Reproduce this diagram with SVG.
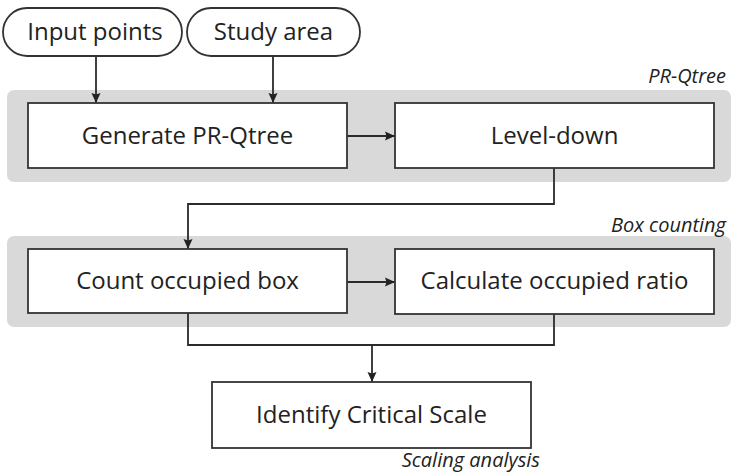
<svg xmlns="http://www.w3.org/2000/svg" width="732" height="474" viewBox="0 0 732 474">
  <defs>
    <marker id="arrow" viewBox="0 0 10 10" refX="10" refY="5" markerWidth="10" markerHeight="10" markerUnits="userSpaceOnUse" orient="auto">
      <path d="M0,0.5 L10,5 L0,9.5 L1.5,5 Z" fill="#222222"/>
    </marker>
  </defs>
  <style>
    .panel { fill: #d9d9d9; }
    .box { fill: #ffffff; stroke: #333333; stroke-width: 1.8; }
    .label { font-family: "Open Sans", "Noto Sans", sans-serif; font-size: 24px; fill: #222222; text-anchor: middle; }
    .group-label { font-family: "Open Sans", "Noto Sans", sans-serif; font-size: 20px; font-style: italic; fill: #222222; text-anchor: end; }
    .link { fill: none; stroke: #2b2b2b; stroke-width: 1.8; }
  </style>

  <!-- group panels -->
  <rect class="panel" x="7" y="90" width="724" height="92" rx="7"/>
  <rect class="panel" x="7" y="236" width="724" height="91" rx="7"/>
  <text class="group-label" x="726" y="83">PR-Qtree</text>
  <text class="group-label" x="726" y="232">Box counting</text>
  <text class="group-label" x="540" y="467">Scaling analysis</text>

  <!-- connectors -->
  <g id="connectors">
    <path class="link" d="M96,56 V103" marker-end="url(#arrow)"/>
    <path class="link" d="M273,56 V103" marker-end="url(#arrow)"/>
    <path class="link" d="M347,136 H395" marker-end="url(#arrow)"/>
    <path class="link" d="M554,168 V204 H188 V249" marker-end="url(#arrow)"/>
    <path class="link" d="M347,282 H395" marker-end="url(#arrow)"/>
    <path class="link" d="M188,313 V345 H554 V314"/>
    <path class="link" d="M372,345 V382" marker-end="url(#arrow)"/>
  </g>

  <g id="input-points">
    <rect class="box" x="3" y="8" width="179" height="48" rx="24"/>
    <text class="label" x="95" y="40">Input points</text>
  </g>
  <g id="study-area">
    <rect class="box" x="187" y="8" width="173" height="48" rx="24"/>
    <text class="label" x="273.5" y="40">Study area</text>
  </g>
  <g id="generate-prqtree">
    <rect class="box" x="28" y="103" width="319" height="65"/>
    <text class="label" x="187.5" y="144">Generate PR-Qtree</text>
  </g>
  <g id="level-down">
    <rect class="box" x="395" y="103" width="319" height="65"/>
    <text class="label" x="554.5" y="144">Level-down</text>
  </g>
  <g id="count-occupied-box">
    <rect class="box" x="28" y="249" width="319" height="64"/>
    <text class="label" x="187.5" y="289">Count occupied box</text>
  </g>
  <g id="calculate-occupied-ratio">
    <rect class="box" x="395" y="249" width="319" height="65"/>
    <text class="label" x="554.5" y="289">Calculate occupied ratio</text>
  </g>
  <g id="identify-critical-scale">
    <rect class="box" x="212" y="382" width="319" height="66"/>
    <text class="label" x="371.5" y="423">Identify Critical Scale</text>
  </g>
</svg>
